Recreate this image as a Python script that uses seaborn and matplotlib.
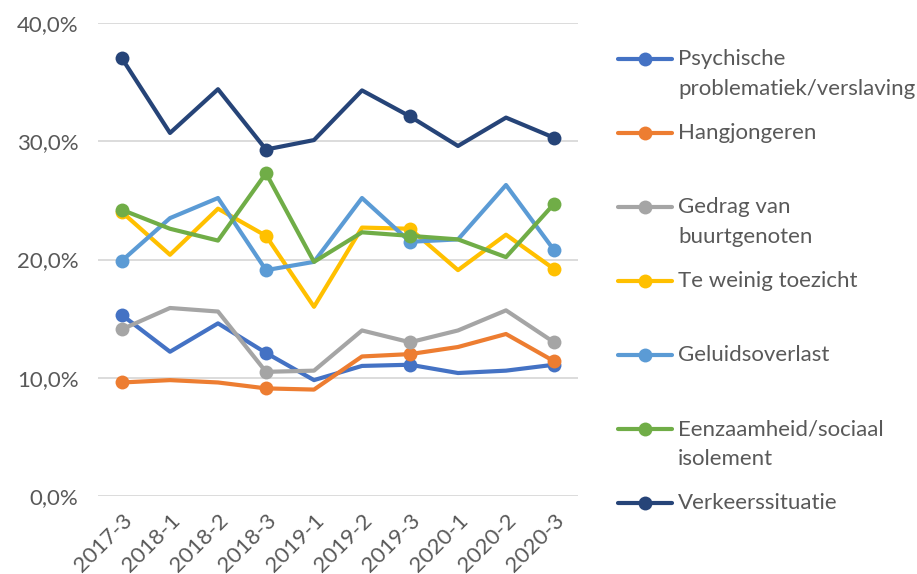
import matplotlib
matplotlib.use("Agg")
import matplotlib.pyplot as plt
from matplotlib.lines import Line2D
import seaborn as sns
import pandas as pd

periods = ["2017-3", "2018-1", "2018-2", "2018-3", "2019-1", "2019-2", "2019-3", "2020-1", "2020-2", "2020-3"]

series_names = [
    "Psychische\nproblematiek/verslaving",
    "Hangjongeren",
    "Gedrag van\nbuurtgenoten",
    "Te weinig toezicht",
    "Geluidsoverlast",
    "Eenzaamheid/sociaal\nisolement",
    "Verkeerssituatie",
]

psychische = [15.3, 12.2, 14.6, 12.1, 9.8, 11.0, 11.1, 10.4, 10.6, 11.1]
hangjongeren = [9.6, 9.8, 9.6, 9.1, 9.0, 11.8, 12.0, 12.6, 13.7, 11.4]
gedrag = [14.1, 15.9, 15.6, 10.5, 10.6, 14.0, 13.0, 14.0, 15.7, 13.0]
toezicht = [24.0, 20.4, 24.3, 22.0, 16.0, 22.7, 22.6, 19.1, 22.1, 19.2]
geluid = [19.9, 23.5, 25.2, 19.1, 19.8, 25.2, 21.5, 21.7, 26.3, 20.8]
eenzaamheid = [24.2, 22.6, 21.6, 27.3, 19.8, 22.3, 22.0, 21.7, 20.2, 24.7]
verkeer = [37.0, 30.7, 34.4, 29.3, 30.1, 34.3, 32.1, 29.6, 32.0, 30.3]

series_values = [psychische, hangjongeren, gedrag, toezicht, geluid, eenzaamheid, verkeer]
colors = ["#4472C4", "#ED7D31", "#A5A5A5", "#FFC000", "#5B9BD5", "#70AD47", "#264478"]

yticks = [0, 10, 20, 30, 40]
ytick_labels = ["0,0%", "10,0%", "20,0%", "30,0%", "40,0%"]

marker_idx = [0, 3, 6, 9]

sns.set_theme(style="white")
plt.rcParams["font.family"] = ["Lato", "DejaVu Sans"]
text_color = "#595959"
fs = 16

fig = plt.figure(figsize=(9.17, 5.74), dpi=100)
W, H = 917, 574
ax = fig.add_axes([98 / W, 1 - 496 / H, (578 - 98) / W, (496 - 23) / H])

for name, vals, col in zip(series_names, series_values, colors):
    df = pd.DataFrame({"x": list(range(len(periods))), "y": vals})
    sns.lineplot(data=df, x="x", y="y", ax=ax, color=col, linewidth=3.0,
                 marker="o", markersize=10, markeredgewidth=0, markevery=marker_idx,
                 zorder=3)

ax.set_xlim(-0.5, len(periods) - 0.5)
ax.set_ylim(0, 40)
ax.set_yticks(yticks)
ax.set_yticklabels(ytick_labels)
ax.set_xticks(range(len(periods)))
ax.set_xticklabels(periods, rotation=45, ha="right", rotation_mode="anchor")
ax.set_xlabel("")
ax.set_ylabel("")
ax.grid(axis="y", color="#D9D9D9", linewidth=1.3, zorder=0)
ax.grid(axis="x", visible=False)
for s in ax.spines.values():
    s.set_visible(False)
ax.tick_params(axis="y", length=0, pad=14, labelsize=fs, labelcolor=text_color)
ax.tick_params(axis="x", length=0, pad=10, labelsize=fs, labelcolor=text_color)

# manual legend (Excel style: handle aligned to first text line)
for i, (name, col) in enumerate(zip(series_names, colors)):
    yc = 1 - (59 + 74 * i) / H
    fig.add_artist(Line2D([618 / W, 672 / W], [yc, yc], transform=fig.transFigure,
                          color=col, linewidth=3.0))
    fig.add_artist(Line2D([645 / W], [yc], transform=fig.transFigure, color=col,
                          marker="o", markersize=10, markeredgewidth=0, linestyle="none"))
    fig.text(678 / W, yc + 10 / H, name, fontsize=fs, color=text_color, va="top",
             ha="left", linespacing=1.65)

fig.savefig("out.png", dpi=100)
